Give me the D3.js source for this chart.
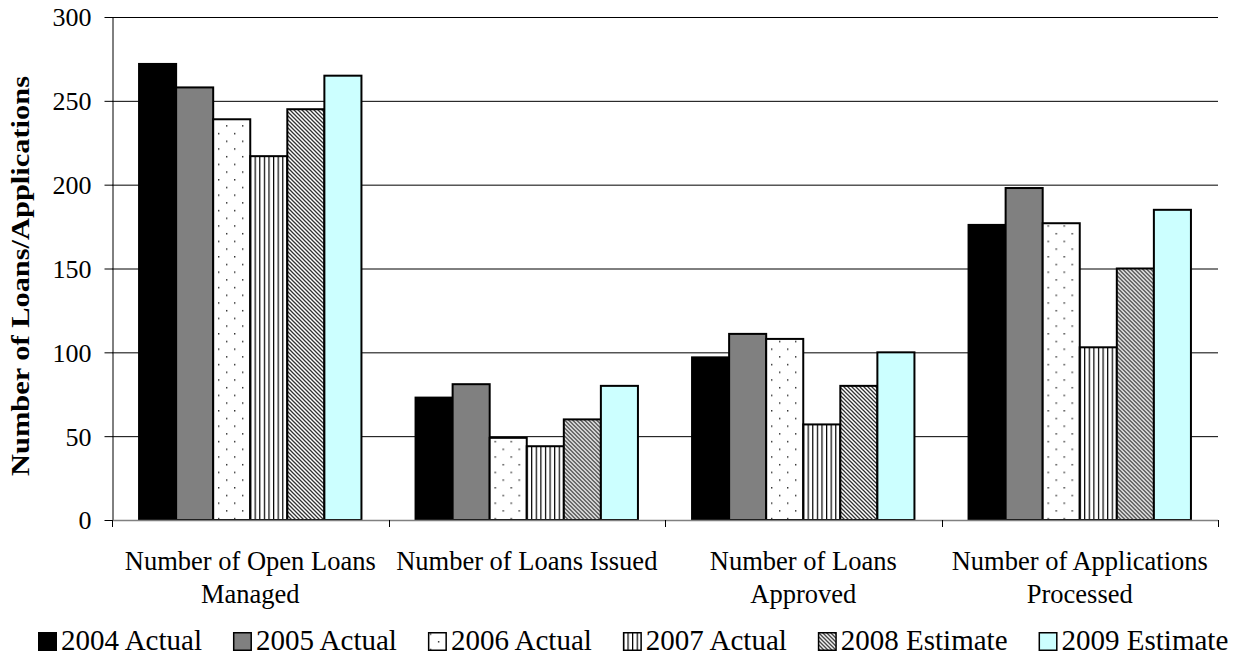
<!DOCTYPE html>
<html>
<head>
<meta charset="utf-8">
<script src="https://cdn.jsdelivr.net/npm/d3@7"></script>
<style>
  html, body { margin: 0; padding: 0; background: #fff; }
  svg { display: block; font-family: "Liberation Serif", "Times New Roman", serif; }
</style>
</head>
<body>
<svg id="chart" width="1238" height="658"></svg>
<script>
// Loan activity by measure and year
const categories = [
  ["Number of Open Loans", "Managed"],
  ["Number of Loans Issued"],
  ["Number of Loans", "Approved"],
  ["Number of Applications", "Processed"]
];
const seriesNames = ["2004 Actual", "2005 Actual", "2006 Actual", "2007 Actual", "2008 Estimate", "2009 Estimate"];
const values2004 = [272, 73, 97, 176];
const values2005 = [258, 81, 111, 198];
const values2006 = [239, 49, 108, 177];
const values2007 = [217, 44, 57, 103];
const values2008 = [245, 60, 80, 150];
const values2009 = [265, 80, 100, 185];
const yTicks = [0, 50, 100, 150, 200, 250, 300];

const seriesValues = [values2004, values2005, values2006, values2007, values2008, values2009];
const fills = ["#000000", "#808080", "url(#dots)", "url(#vlines)", "url(#diag)", "#CCFFFF"];

const svg = d3.select("#chart");
const plotLeft = 112, plotRight = 1218, plotTop = 17, plotBottom = 520;

const x0 = d3.scaleBand().domain(d3.range(categories.length)).range([plotLeft, plotRight]).padding(0);
const x1 = d3.scaleBand().domain(d3.range(seriesNames.length)).range([0, x0.bandwidth()])
  .paddingInner(0).paddingOuter(0.73);
const y = d3.scaleLinear().domain([0, 300]).range([plotBottom, plotTop]);

// Fill patterns
const defs = svg.append("defs");
const dots = defs.append("pattern").attr("id", "dots").attr("patternUnits", "userSpaceOnUse")
  .attr("width", 16).attr("height", 15.4);
dots.append("rect").attr("width", 16).attr("height", 15.4).attr("fill", "#fff");
dots.append("rect").attr("x", 2).attr("y", 2).attr("width", 1.4).attr("height", 1.4).attr("fill", "#222");
dots.append("rect").attr("x", 10).attr("y", 9.7).attr("width", 1.4).attr("height", 1.4).attr("fill", "#222");

const vl = defs.append("pattern").attr("id", "vlines").attr("patternUnits", "userSpaceOnUse")
  .attr("width", 4.6).attr("height", 10);
vl.append("rect").attr("width", 4.6).attr("height", 10).attr("fill", "#fff");
vl.append("rect").attr("x", 0).attr("width", 1.2).attr("height", 10).attr("fill", "#000");

const dg = defs.append("pattern").attr("id", "diag").attr("patternUnits", "userSpaceOnUse")
  .attr("width", 4).attr("height", 4);
dg.append("rect").attr("width", 4).attr("height", 4).attr("fill", "#fff");
dg.append("path").attr("d", "M-1,-1 L5,5 M-1,3 L1,5 M3,-1 L5,1")
  .attr("stroke", "#333").attr("stroke-width", 1.3);

// Gridlines
svg.append("g").selectAll("line").data(yTicks.filter(d => d > 0)).join("line")
  .attr("x1", plotLeft).attr("x2", plotRight)
  .attr("y1", d => y(d) + 0.5).attr("y2", d => y(d) + 0.5)
  .attr("stroke", "#000").attr("stroke-width", 1);

// Bars
const groups = svg.append("g").selectAll("g").data(categories).join("g")
  .attr("transform", (d, i) => `translate(${x0(i)},0)`);
groups.selectAll("rect").data((d, i) => seriesValues.map((s, k) => ({ k, v: s[i] }))).join("rect")
  .attr("x", d => x1(d.k))
  .attr("y", d => y(d.v))
  .attr("width", x1.bandwidth())
  .attr("height", d => plotBottom - y(d.v))
  .attr("fill", d => fills[d.k])
  .attr("stroke", "#000").attr("stroke-width", 2);

// Y axis
const yAxis = d3.axisLeft(y).tickValues(yTicks).tickSize(8).tickSizeOuter(0).tickPadding(13);
const gy = svg.append("g").attr("transform", `translate(${plotLeft + 0.5},0)`).call(yAxis);
gy.attr("font-family", null).attr("font-size", null);
gy.select(".domain").attr("stroke", "#000");
gy.selectAll(".tick line").attr("stroke", "#000");
gy.selectAll("text").attr("font-size", 26).attr("fill", "#000").attr("dy", "0.34em");

// X axis baseline and category separators
svg.append("line").attr("x1", plotLeft).attr("x2", plotRight).attr("y1", plotBottom + 0.5).attr("y2", plotBottom + 0.5)
  .attr("stroke", "#808080").attr("stroke-width", 1.5);
const bounds = d3.range(categories.length + 1).map(i => i < categories.length ? x0(i) : plotRight);
svg.append("g").selectAll("line").data(bounds).join("line")
  .attr("x1", d => Math.round(d) + 0.5).attr("x2", d => Math.round(d) + 0.5)
  .attr("y1", plotBottom).attr("y2", plotBottom + 7)
  .attr("stroke", "#000");

// Category labels
const catText = svg.append("g").selectAll("text").data(categories).join("text")
  .attr("text-anchor", "middle").attr("font-size", 26.5).attr("fill", "#000")
  .attr("transform", (d, i) => `translate(${x0(i) + x0.bandwidth() / 2},0)`);
catText.selectAll("tspan").data(d => d).join("tspan")
  .attr("x", 0).attr("y", (d, j) => 570 + j * 33).text(d => d);

// Y axis title
svg.append("text").attr("transform", `translate(29,276) rotate(-90)`)
  .attr("text-anchor", "middle").attr("font-size", 26).attr("font-weight", "bold")
  .attr("textLength", 400).attr("lengthAdjust", "spacingAndGlyphs")
  .text("Number of Loans/Applications");

// Legend: swatch + label per series, laid out left to right
const legendStart = 38, swatch = 19, swatchGap = 4, itemGap = 31;
const leg = svg.append("g").selectAll("g").data(seriesNames).join("g");
leg.append("rect").attr("x", 0.75).attr("y", 632.75).attr("width", swatch - 1.5).attr("height", swatch - 1.5)
  .attr("fill", (d, i) => fills[i]).attr("stroke", "#000").attr("stroke-width", 1.5);
leg.append("text").attr("x", swatch + swatchGap).attr("y", 650).attr("font-size", 29).attr("fill", "#000").text(d => d);
const itemW = [];
leg.each(function () { itemW.push(swatch + swatchGap + d3.select(this).select("text").node().getComputedTextLength()); });
let cx = legendStart;
leg.attr("transform", (d, i) => { const t = `translate(${cx},0)`; cx += itemW[i] + itemGap; return t; });
</script>
</body>
</html>
